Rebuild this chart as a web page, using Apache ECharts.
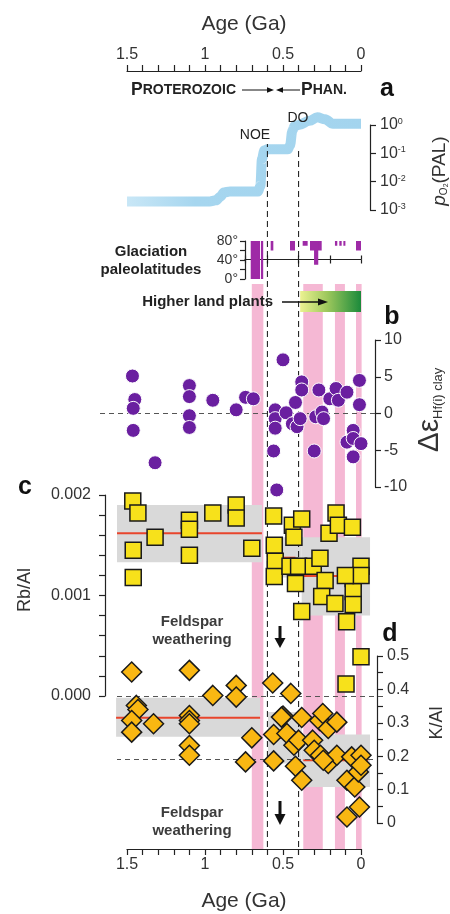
<!DOCTYPE html>
<html><head><meta charset="utf-8">
<script src="https://cdn.jsdelivr.net/npm/echarts@6/dist/echarts.min.js"></script>
<style>html,body{margin:0;padding:0;background:#fff}#c{width:450px;height:914px}</style>
</head><body><div id="c"></div>
<script>
// ---------------- DATA ----------------
const ageTickValues = [1.5, 1, 0.5, 0];
// panel a : atmospheric O2 (log10 PAL)
const pO2Age = [1.5, 0.97, 0.93, 0.90, 0.88, 0.84, 0.66, 0.645, 0.635, 0.62, 0.60, 0.47, 0.455, 0.44, 0.425, 0.40, 0.33, 0.28, 0.23, 0.18, 0.0];
const pO2Log = [-2.70, -2.70, -2.66, -2.52, -2.38, -2.35, -2.35, -2.15, -1.2, -0.9, -0.86, -0.86, -0.72, -0.2, -0.03, 0.0, 0.15, 0.27, 0.2, 0.04, 0.04];
// glaciations: age old, age young, min latitude, max latitude
const glacOld   = [0.707, 0.641, 0.579, 0.455, 0.374, 0.327, 0.301, 0.167, 0.139, 0.113, 0.032];
const glacYoung = [0.647, 0.627, 0.562, 0.423, 0.342, 0.252, 0.274, 0.152, 0.124, 0.100, 0.0];
const glacLatMin = [0, 0, 60, 60, 70, 60, 30, 70, 70, 70, 60];
const glacLatMax = [80, 80, 80, 80, 80, 80, 80, 80, 80, 80, 80];
// glaciation intervals (pink bands)
const pinkOld   = [0.70, 0.37, 0.167, 0.032];
const pinkYoung = [0.626, 0.245, 0.103, -0.004];
// higher land plants
const plantsOld = 0.39, plantsYoung = 0.0;
// reference events
const noeAge = 0.6, doAge = 0.4;
// panel b : delta epsilon Hf clay
const bAge = [1.465,1.45,1.46,1.46,1.32,1.10,1.10,1.10,1.10,0.95,0.80,0.74,0.69,0.50,0.55,0.55,0.55,0.56,0.54,0.48,0.42,0.44,0.41,0.39,0.38,0.38,0.30,0.29,0.27,0.25,0.24,0.20,0.16,0.145,0.09,0.05,0.09,0.05,0.0,0.05,0.01,0.01];
const bVal = [5.1,1.9,0.7,-2.3,-6.7,3.8,2.3,-0.3,-1.9,1.8,0.5,2.2,2.0,7.3,0.5,-0.7,-2.0,-5.1,-10.4,0.1,1.5,-1.4,-1.8,-0.7,4.3,3.2,-5.1,-0.45,3.2,0.2,-0.7,2.0,3.4,1.8,2.9,-2.3,-3.9,-3.4,-4.1,-5.9,4.5,1.2];
const bRef = 0;
// panel c : Rb/Al
const cAge = [1.463,1.43,1.46,1.46,1.32,1.10,1.10,1.10,0.95,0.80,0.80,0.70,
  0.56,0.556,0.55,0.556,0.44,0.43,0.38,0.455,0.40,0.42,0.38,0.306,0.263,0.23,0.252,0.16,0.205,0.145,0.055,0.167,0.092,0.05,0.05,0.05,0.0,0.0,0.10,0.0,0.096];
const cVal = [0.00194,0.00182,0.00145,0.00118,0.00158,0.00175,0.00166,0.0014,0.00182,0.0019,0.00177,0.00147,
  0.00179,0.0015,0.00134,0.00119,0.0017,0.00158,0.00176,0.00129,0.00129,0.00112,0.00084,0.00129,0.00137,0.00115,0.00099,0.00182,0.00162,0.0017,0.00168,0.00092,0.00074,0.00117,0.00104,0.00091,0.00129,0.0012,0.0012,0.00039,0.00012];
const cBandOld = [1.564, 0.596, 0.38], cBandYoung = [0.635, 0.38, -0.058];
const cBandLow = [0.00133, 0.00118, 0.0008], cBandHigh = [0.0019, 0.00158, 0.00158];
const cMeanOld = [1.564, 0.596, 0.37], cMeanYoung = [0.635, 0.42, -0.045], cMean = [0.00162, 0.001376, 0.001194];
const cRef = 0.0012;
// panel d : K/Al
const dAge = [1.47,1.44,1.43,1.47,1.47,1.33,1.10,1.10,1.10,1.10,1.10,1.10,0.95,0.80,0.80,0.74,0.70,0.566,0.56,0.56,0.50,0.45,0.475,0.43,0.42,0.38,0.38,0.40,0.31,0.30,0.265,0.245,0.26,0.21,0.155,0.21,0.155,0.06,0.09,0.04,0.017,0.0,0.0,0.09,0.01,0.51,0.242];
const dVal = [0.452,0.352,0.34,0.307,0.272,0.297,0.457,0.322,0.307,0.297,0.232,0.203,0.382,0.412,0.377,0.183,0.255,0.419,0.265,0.186,0.32,0.388,0.268,0.233,0.17,0.316,0.128,0.248,0.248,0.218,0.307,0.328,0.203,0.283,0.302,0.178,0.203,0.198,0.128,0.108,0.153,0.203,0.173,0.018,0.048,0.317,0.188];
const dBandOld = [1.57, 0.596, 0.38], dBandYoung = [0.647, 0.38, -0.058];
const dBandLow = [0.258, 0.178, 0.108], dBandHigh = [0.375, 0.332, 0.265];
const dMeanOld = [1.57, 0.596, 0.37], dMeanYoung = [0.647, 0.42, -0.045], dMean = [0.315, 0.255, 0.188];
const dRef = 0.186;

// ---------------- LAYOUT ----------------
const FONT = 'Liberation Sans, Arial, Helvetica, sans-serif';
const K = 156, X0 = 361;           // px per Ga, pixel x of age 0
const INK = '#222', TXT = '#333';
const G = [
  {left:127, top:125, width:234, height:85},   //0 a
  {left:245, top:241, width:116, height:38},   //1 glaciation
  {left:127, top:291, width:234, height:21},   //2 land plants
  {left:97,  top:340, width:278, height:147},  //3 b
  {left:117, top:495, width:266, height:201},  //4 c
  {left:117, top:656, width:256, height:167},  //5 d
  {left:127, top:284, width:234, height:565},  //6 pink + bottom axis
  {left:127, top:144, width:234, height:703},  //7 NOE line
  {left:127, top:148, width:234, height:699}   //8 DO line
];
const grids = G.map(g => Object.assign({show:false, containLabel:false, outerBoundsMode:'none'}, g));
const axLine = {show:true, onZero:false, lineStyle:{color:INK, width:1.2}};
const axTick = (len, inside) => ({show:true, length:len, inside:!!inside, lineStyle:{color:INK, width:1.2}});
function hiddenX(i){ const g=G[i]; return {gridIndex:i, type:'value', inverse:true, min:(X0-g.left-g.width)/K, max:(X0-g.left)/K, show:false, axisLine:{onZero:false}}; }
function hiddenY(i){ return {gridIndex:i, type:'value', min:0, max:1, show:false, axisLine:{onZero:false}}; }
const near = (v, step) => Math.abs(v/step - Math.round(v/step)) < 1e-6;
const fmtAge = v => { const r = Math.round(v*10)/10; return ageTickValues.some(t => Math.abs(t-r)<1e-6) ? String(r) : ''; };
const ageAxis = (i, pos, offset) => ({
  gridIndex:i, type:'value', inverse:true, min:0, max:1.5, interval:0.1, position:pos, offset:offset,
  axisLine:axLine, axisTick:axTick(6), splitLine:{show:false},
  axisLabel:{formatter:fmtAge, fontSize:16, color:TXT, fontFamily:FONT, margin:8, showMinLabel:true, showMaxLabel:true},
  name:'Age (Ga)', nameLocation:'middle', nameGap:36, nameTextStyle:{fontSize:21, color:TXT, fontFamily:FONT}
});

const xAxes = [
  ageAxis(0, 'top', 54),                                                            //0
  {gridIndex:1, type:'value', inverse:true, min:0, max:G[1].width/K, interval:0.2, position:'bottom', offset:-19.5,
    axisLine:axLine, axisTick:axTick(4, true), axisLabel:{show:false}, splitLine:{show:false}}, //1
  {gridIndex:1, type:'value', inverse:true, min:0, max:G[1].width/K, interval:0.2, position:'bottom', offset:-19.5,
    axisLine:{show:false, onZero:false}, axisTick:axTick(4, false), axisLabel:{show:false}, splitLine:{show:false}}, //2
  hiddenX(2), hiddenX(3), hiddenX(4), hiddenX(5),                                  //3..6
  ageAxis(6, 'bottom', 0),                                                          //7
  hiddenX(7), hiddenX(8)                                                            //8,9
];
xAxes[7].nameGap = 42;
const yLab = (extra) => Object.assign({fontSize:16, color:TXT, fontFamily:FONT}, extra);
const yAxes = [
  {gridIndex:0, type:'value', min:-3, max:0, interval:1, position:'right', offset:9, axisLine:axLine, axisTick:axTick(6), splitLine:{show:false},
    axisLabel:{margin:10, formatter:v => '{b|10}{s|' + v + '}',
      rich:{b:{fontSize:16, color:TXT, fontFamily:FONT}, s:{fontSize:9, color:TXT, fontFamily:FONT, verticalAlign:'top'}}}},
  {gridIndex:1, type:'value', min:0, max:80, interval:20, position:'left', axisLine:axLine, axisTick:axTick(5), splitLine:{show:false},
    axisLabel:yLab({fontSize:14, margin:7, formatter:v => near(v,40) ? v + '°' : ''})},
  hiddenY(2),
  {gridIndex:3, type:'value', min:-10, max:10, interval:5, position:'right', axisLine:axLine, axisTick:axTick(6), splitLine:{show:false},
    axisLabel:yLab({margin:9})},
  {gridIndex:4, type:'value', min:0, max:0.002, interval:0.0002, position:'left', offset:12, axisLine:axLine, axisTick:axTick(6), splitLine:{show:false},
    axisLabel:yLab({margin:14, formatter:v => near(v,0.001) ? v.toFixed(3) : ''})},
  {gridIndex:5, type:'value', min:0, max:0.5, interval:0.05, position:'right', offset:4, axisLine:axLine, axisTick:axTick(6), splitLine:{show:false},
    axisLabel:yLab({margin:10, formatter:v => near(v,0.1) ? String(Number(v.toFixed(1))) : ''})},
  hiddenY(6), hiddenY(7), hiddenY(8)
];

// helpers for custom rectangles / lines
function rectItem(fill){
  return (p, api) => {
    const a = api.coord([api.value(0), api.value(3)]), b = api.coord([api.value(1), api.value(2)]);
    return {type:'rect', shape:{x:Math.min(a[0],b[0]), y:Math.min(a[1],b[1]), width:Math.abs(b[0]-a[0]), height:Math.abs(b[1]-a[1])}, style:{fill:fill}};
  };
}
function hLineItem(color, w){
  return (p, api) => {
    const a = api.coord([api.value(0), api.value(2)]), b = api.coord([api.value(1), api.value(2)]);
    return {type:'line', shape:{x1:a[0], y1:a[1], x2:b[0], y2:b[1]}, style:{stroke:color, lineWidth:w}};
  };
}
const refLine = (v) => ({silent:true, symbol:['none','none'], label:{show:false}, animation:false,
  lineStyle:{color:'#555', type:[5,4], width:1}, emphasis:{disabled:true}, data:[{yAxis:v}]});
const zip = (a, b) => a.map((v, i) => [v, b[i]]);

const series = [
  {type:'custom', xAxisIndex:7, yAxisIndex:6, z:0, silent:true,
    data: pinkOld.map((o,i) => [o, pinkYoung[i], 0, 1]), renderItem:rectItem('#f5b8d4')},
  {type:'line', xAxisIndex:8, yAxisIndex:7, z:2, silent:true, symbol:'none', data:[[noeAge,0],[noeAge,1]],
    lineStyle:{color:'#111', width:1, type:[6,4]}},
  {type:'line', xAxisIndex:9, yAxisIndex:8, z:2, silent:true, symbol:'none', data:[[doAge,0],[doAge,1]],
    lineStyle:{color:'#111', width:1, type:[6,4]}},
  {type:'line', xAxisIndex:0, yAxisIndex:0, z:1, silent:true, symbol:'none', clip:false, smooth:0.35, smoothMonotone:'x',
    data: zip(pO2Age, pO2Log),
    lineStyle:{width:10, cap:'butt', color:{type:'linear', x:0, y:0, x2:1, y2:0, colorStops:[
      {offset:0, color:'#cbe8f7'}, {offset:0.3, color:'#a6d6ef'}, {offset:1, color:'#a3d4ee'}]}}},
  {type:'custom', xAxisIndex:1, yAxisIndex:1, z:3, silent:true,
    data: glacOld.map((o,i) => [o, glacYoung[i], glacLatMin[i], glacLatMax[i]]), renderItem:rectItem('#9e2aa6')},
  {type:'custom', xAxisIndex:3, yAxisIndex:2, z:3, silent:true, data:[[plantsOld, plantsYoung, 0, 1]],
    renderItem:rectItem({type:'linear', x:0, y:0, x2:1, y2:0, colorStops:[
      {offset:0, color:'#ecf291'}, {offset:0.45, color:'#9cc75c'}, {offset:1, color:'#1b8a3b'}]})},
  // b
  {type:'scatter', xAxisIndex:4, yAxisIndex:3, z:5, silent:true, clip:false, symbol:'circle', symbolSize:14,
    itemStyle:{color:'#6a1fa0', borderColor:'#fff', borderWidth:1, opacity:1}, data: zip(bAge, bVal), markLine: refLine(bRef)},
  // c
  {type:'custom', xAxisIndex:5, yAxisIndex:4, z:1, silent:true,
    data: cBandOld.map((o,i) => [o, cBandYoung[i], cBandLow[i], cBandHigh[i]]), renderItem:rectItem('#d9d9d9')},
  {type:'custom', xAxisIndex:5, yAxisIndex:4, z:2, silent:true,
    data: cMeanOld.map((o,i) => [o, cMeanYoung[i], cMean[i]]), renderItem:hLineItem('#e8452c', 2)},
  {type:'scatter', xAxisIndex:5, yAxisIndex:4, z:6, silent:true, clip:false, symbol:'rect', symbolSize:16,
    itemStyle:{color:'#f7e11b', borderColor:'#1a1a1a', borderWidth:1.5, opacity:1}, data: zip(cAge, cVal), markLine: refLine(cRef)},
  // d
  {type:'custom', xAxisIndex:6, yAxisIndex:5, z:1, silent:true,
    data: dBandOld.map((o,i) => [o, dBandYoung[i], dBandLow[i], dBandHigh[i]]), renderItem:rectItem('#d9d9d9')},
  {type:'custom', xAxisIndex:6, yAxisIndex:5, z:2, silent:true,
    data: dMeanOld.map((o,i) => [o, dMeanYoung[i], dMean[i]]), renderItem:hLineItem('#e8452c', 2)},
  {type:'scatter', xAxisIndex:6, yAxisIndex:5, z:5, silent:true, clip:false, symbol:'diamond', symbolSize:20,
    itemStyle:{color:'#f9b712', borderColor:'#1a1a1a', borderWidth:1.5, opacity:1}, data: zip(dAge, dVal), markLine: refLine(dRef)}
];

// ---------------- ANNOTATIONS ----------------
function txt(text, x, y, st, el){
  return Object.assign({type:'text', x:x, y:y, silent:true, z:100,
    style:Object.assign({text:text, fill:INK, fontFamily:FONT, fontSize:14, align:'center', verticalAlign:'middle'}, st||{})}, el||{});
}
function seg(x1,y1,x2,y2,w){ return {type:'line', silent:true, z:100, shape:{x1,y1,x2,y2}, style:{stroke:'#111', lineWidth:w||1}}; }
function tri(pts){ return {type:'polygon', silent:true, z:100, shape:{points:pts}, style:{fill:'#111'}}; }
const bold = {fontWeight:'bold'};
const richEon = {a:{fontSize:17.5, fontWeight:'bold', fontFamily:FONT, fill:INK}, b:{fontSize:14, fontWeight:'bold', fontFamily:FONT, fill:INK}};
const graphic = [
  txt('{a|P}{b|ROTEROZOIC}', 131, 90, {align:'left', rich:richEon}),
  seg(242,90,270,90,1), tri([[267,87.3],[274,90],[267,92.7]]),
  seg(281,90,300,90,1), tri([[283,87.3],[276,90],[283,92.7]]),
  txt('{a|P}{b|HAN.}', 301, 90, {align:'left', rich:richEon}),
  txt('a', 387, 89, {fontSize:25, fontWeight:'bold', fill:'#111'}),
  txt('NOE', 255, 135, {fontSize:14}),
  txt('DO', 298, 118, {fontSize:14}),
  txt('Glaciation', 151, 252, Object.assign({fontSize:15}, bold)),
  txt('paleolatitudes', 151, 270, Object.assign({fontSize:15}, bold)),
  txt('Higher land plants', 273, 302, Object.assign({fontSize:15, align:'right'}, bold)),
  seg(282,302,321,302,1.5), tri([[318,298.5],[328,302],[318,305.5]]),
  txt('b', 392, 317, {fontSize:25, fontWeight:'bold', fill:'#111'}),
  txt('c', 25, 487, {fontSize:25, fontWeight:'bold', fill:'#111'}),
  txt('d', 390, 634, {fontSize:25, fontWeight:'bold', fill:'#111'}),
  txt('Feldspar', 192, 622, Object.assign({fontSize:15, fill:'#3c3c3c'}, bold)),
  txt('weathering', 192, 640, Object.assign({fontSize:15, fill:'#3c3c3c'}, bold)),
  seg(280,626,280,640,3), tri([[274.5,638],[285.5,638],[280,648]]),
  txt('Feldspar', 192, 813, Object.assign({fontSize:15, fill:'#3c3c3c'}, bold)),
  txt('weathering', 192, 831, Object.assign({fontSize:15, fill:'#3c3c3c'}, bold)),
  seg(280,801,280,816,3), tri([[274.5,814],[285.5,814],[280,825]]),
  txt('Rb/Al', 25, 590, {fontSize:18, fill:TXT}, {rotation:Math.PI/2}),
  txt('K/Al', 437, 723, {fontSize:18, fill:TXT}, {rotation:Math.PI/2}),
  txt('{i|p}{o|O}{t|2}{n|(PAL)}', 440, 171, {fill:TXT, rich:{
      i:{fontSize:19, fontStyle:'italic', fontFamily:FONT, fill:TXT},
      o:{fontSize:10, fontFamily:FONT, fill:TXT, verticalAlign:'bottom'},
      t:{fontSize:7, fontFamily:FONT, fill:TXT, verticalAlign:'bottom'},
      n:{fontSize:19, fontFamily:FONT, fill:TXT}}}, {rotation:Math.PI/2}),
  txt('{d|Δε}{s|Hf(i) clay}', 430, 410, {fill:TXT, rich:{
      d:{fontSize:30, fontFamily:FONT, fill:TXT},
      s:{fontSize:13, fontFamily:FONT, fill:TXT, verticalAlign:'bottom'}}}, {rotation:Math.PI/2})
];

const chart = echarts.init(document.getElementById('c'), null, {renderer:'canvas'});
chart.setOption({
  animation:false, backgroundColor:'#fff',
  textStyle:{fontFamily:FONT},
  grid:grids, xAxis:xAxes, yAxis:yAxes, series:series, graphic:graphic
});
</script></body></html>
